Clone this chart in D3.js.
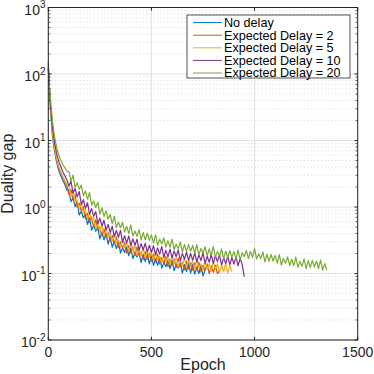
<!DOCTYPE html>
<html><head><meta charset="utf-8">
<script src="https://cdn.jsdelivr.net/npm/d3@7/dist/d3.min.js"></script>
<style>html,body{margin:0;padding:0;background:#fff}svg{display:block;font-family:"Liberation Sans",Arial,sans-serif}</style>
</head><body><svg id="c" width="374" height="374"></svg>
<script>
// ---- data ----
const epochStep = 10; // one sample every 10 epochs, starting at epoch 0
const seriesNames = ["No delay","Expected Delay = 2","Expected Delay = 5","Expected Delay = 10","Expected Delay = 20"];
const seriesColors = ["#0072BD","#D95319","#EDB120","#7E2F8E","#77AC30"];
const noDelay = [150,30,12,7.0,4.8,3.6,3.0,2.5,2.2,1.8,
 1.83,1.2,1.375,1.01,1.22,0.756,0.861,0.69,0.782,0.546,0.684,0.45,0.529,0.432,0.493,0.332,0.42,0.32,0.402,0.277,
 0.356,0.248,0.303,0.237,0.307,0.203,0.245,0.207,0.25,0.185,0.244,0.167,0.206,0.177,0.21,0.146,0.193,0.151,0.197,0.139,
 0.185,0.132,0.166,0.133,0.177,0.12,0.147,0.127,0.156,0.118,0.158,0.11,0.138,0.12,0.144,0.101,0.136,0.107,0.142,0.101,
 0.136,0.098,0.123,0.1,0.134,0.092,0.113];
const delay2 = [130,34,13.5,7.6,5.2,3.9,3.3,2.8,2.4,2.05,
 1.54,1.82,1.28,1.54,0.99,1.14,0.874,1.015,0.664,0.806,0.594,0.708,0.492,0.641,0.451,0.497,0.366,0.474,0.344,0.409,
 0.302,0.375,0.28,0.356,0.244,0.299,0.243,0.296,0.203,0.262,0.203,0.254,0.184,0.251,0.184,0.211,0.162,0.216,0.163,0.2,
 0.152,0.194,0.149,0.196,0.138,0.173,0.143,0.179,0.126,0.165,0.131,0.166,0.123,0.17,0.126,0.146,0.113,0.154,0.117,0.146,
 0.112,0.145,0.113,0.148,0.105,0.133,0.112,0.14,0.099,0.131,0.104,0.133,0.099,0.113];
const delay5 = [125,34,14,7.9,5.4,4.1,3.4,2.9,2.5,2.15,
 2.04,1.43,1.78,1.21,1.27,0.927,1.16,0.81,0.913,0.654,0.847,0.6,0.684,0.469,0.567,0.434,0.545,0.372,0.461,0.356,
 0.411,0.304,0.4,0.289,0.322,0.248,0.328,0.243,0.286,0.216,0.294,0.219,0.26,0.186,0.234,0.186,0.243,0.171,0.219,0.175,
 0.208,0.158,0.214,0.159,0.182,0.144,0.194,0.147,0.177,0.136,0.189,0.143,0.173,0.126,0.161,0.13,0.171,0.122,0.158,0.128,
 0.153,0.118,0.161,0.121,0.14,0.111,0.151,0.115,0.14,0.108,0.151,0.115,0.14,0.102,0.132,0.107,0.142,0.101,0.132,0.107];
const delay10 = [120,38,16,9.4,6.5,4.9,4.1,3.4,2.95,2.55,
 2.07,2.43,1.62,1.9,1.42,1.71,1.09,1.29,0.952,1.16,0.783,0.946,0.724,0.858,0.559,0.676,0.522,0.632,0.451,0.548,
 0.414,0.511,0.358,0.445,0.35,0.444,0.297,0.37,0.287,0.368,0.262,0.332,0.265,0.329,0.223,0.282,0.227,0.285,0.211,0.266,
 0.207,0.263,0.19,0.243,0.196,0.255,0.175,0.223,0.178,0.232,0.17,0.219,0.179,0.226,0.156,0.201,0.164,0.209,0.157,0.2,
 0.158,0.204,0.148,0.192,0.156,0.205,0.142,0.183,0.147,0.194,0.142,0.185,0.151,0.192,0.134,0.172,0.141,0.181,0.136,0.174,
 0.138,0.178,0.13,0.168,0.137,0.09];
const delay20 = [110,44,20,11.5,8.0,6.2,5.1,4.4,3.9,3.45,
 3.42,2.42,3.02,1.97,2.31,1.84,2.14,1.47,1.74,1.31,1.65,1.075,1.23,0.983,1.18,0.781,0.974,0.721,0.874,0.658,
 0.77,0.563,0.728,0.49,0.594,0.488,0.587,0.418,0.513,0.4,0.537,0.366,0.435,0.361,0.458,0.319,0.414,0.32,0.403,0.315,
 0.381,0.287,0.382,0.264,0.328,0.277,0.342,0.249,0.311,0.248,0.329,0.228,0.277,0.234,0.299,0.209,0.274,0.214,0.274,0.216,
 0.264,0.202,0.271,0.19,0.238,0.203,0.252,0.185,0.234,0.188,0.253,0.176,0.215,0.183,0.235,0.165,0.218,0.172,0.22,0.175,
 0.215,0.165,0.226,0.161,0.205,0.179,0.222,0.167,0.214,0.175,0.237,0.165,0.199,0.167,0.212,0.149,0.195,0.152,0.193,0.153,
 0.187,0.143,0.192,0.134,0.168,0.143,0.178,0.131,0.164,0.131,0.177,0.124,0.152,0.129,0.166,0.118,0.156,0.123,0.158,0.125,
 0.154,0.118,0.16,0.112,0.141,0.112];
const seriesValues = [noDelay, delay2, delay5, delay10, delay20];
const xTicks = [0,500,1000,1500];
const yTickExps = [-2,-1,0,1,2,3];
const xLabel = "Epoch", yLabel = "Duality gap";

// ---- layout ----
const svg = d3.select("#c");
const L = 48.3, R = 357.7, T = 7.5, B = 340;
const x = d3.scaleLinear().domain([0,1500]).range([L,R]);
const y = d3.scaleLog().domain([0.01,1000]).range([B,T]);
const axisColor = "#262626";

const minorVals = [];
for (let e=-2;e<3;e++) for (let m=2;m<=9;m++) minorVals.push(m*Math.pow(10,e));

// grids
const grid = svg.append("g");
grid.selectAll(".mg").data(minorVals).enter().append("line")
  .attr("x1",L).attr("x2",R).attr("y1",d=>y(d)).attr("y2",d=>y(d))
  .attr("stroke","#bcbcbc").attr("stroke-width",0.6).attr("stroke-dasharray","1,2.5");
grid.selectAll(".gy").data(yTickExps).enter().append("line")
  .attr("x1",L).attr("x2",R).attr("y1",d=>y(Math.pow(10,d))).attr("y2",d=>y(Math.pow(10,d)))
  .attr("stroke","#e2e2e2").attr("stroke-width",1);
grid.selectAll(".gx").data(xTicks).enter().append("line")
  .attr("y1",T).attr("y2",B).attr("x1",d=>x(d)).attr("x2",d=>x(d))
  .attr("stroke","#e2e2e2").attr("stroke-width",1);

// series
const line = d3.line().x((d,i)=>x(i*epochStep)).y(d=>y(d));
const gl = svg.append("g");
seriesValues.forEach((vals,k)=>{
  gl.append("path").datum(vals).attr("d",line).attr("fill","none")
    .attr("stroke",seriesColors[k]).attr("stroke-width",1.2).attr("stroke-linejoin","round");
});

// axes box
const ax = svg.append("g");
ax.append("rect").attr("x",L).attr("y",T).attr("width",R-L).attr("height",B-T)
  .attr("fill","none").attr("stroke",axisColor).attr("stroke-width",1);
const tl = 3.2;
xTicks.forEach(t=>{
  ax.append("line").attr("x1",x(t)).attr("x2",x(t)).attr("y1",B).attr("y2",B-tl).attr("stroke",axisColor);
  ax.append("line").attr("x1",x(t)).attr("x2",x(t)).attr("y1",T).attr("y2",T+tl).attr("stroke",axisColor);
  ax.append("text").attr("x",x(t)).attr("y",357).attr("text-anchor","middle")
    .attr("font-size",14).attr("fill",axisColor).text(t);
});
yTickExps.forEach(e=>{
  const yy = y(Math.pow(10,e));
  ax.append("line").attr("x1",L).attr("x2",L+tl).attr("y1",yy).attr("y2",yy).attr("stroke",axisColor);
  ax.append("line").attr("x1",R).attr("x2",R-tl).attr("y1",yy).attr("y2",yy).attr("stroke",axisColor);
  const t = ax.append("text").attr("x",45.5).attr("y",yy+7).attr("text-anchor","end")
    .attr("fill",axisColor).attr("font-size",14);
  t.append("tspan").text("10");
  t.append("tspan").attr("font-size",10).attr("dy",-6.5).text(String(e));
});
minorVals.forEach(v=>{
  const yy = y(v);
  ax.append("line").attr("x1",L).attr("x2",L+2.2).attr("y1",yy).attr("y2",yy).attr("stroke",axisColor).attr("stroke-width",0.7);
  ax.append("line").attr("x1",R).attr("x2",R-2.2).attr("y1",yy).attr("y2",yy).attr("stroke",axisColor).attr("stroke-width",0.7);
});
svg.append("text").attr("x",(L+R)/2).attr("y",370).attr("text-anchor","middle")
  .attr("font-size",16).attr("fill",axisColor).text(xLabel);
svg.append("text").attr("transform",`translate(13.3,${(T+B)/2}) rotate(-90)`).attr("text-anchor","middle")
  .attr("font-size",16).attr("fill",axisColor).text(yLabel);

// legend
const lg = svg.append("g");
lg.append("rect").attr("x",187).attr("y",15).attr("width",163).attr("height",63)
  .attr("fill","#fff").attr("stroke",axisColor).attr("stroke-width",0.8);
seriesNames.forEach((n,i)=>{
  const cy = 22.6 + i*12.6;
  lg.append("line").attr("x1",193).attr("x2",222).attr("y1",cy).attr("y2",cy)
    .attr("stroke",seriesColors[i]).attr("stroke-width",1);
  lg.append("text").attr("x",224).attr("y",cy+4.4).attr("font-size",12.6)
    .attr("fill","#000").text(n);
});
</script></body></html>
